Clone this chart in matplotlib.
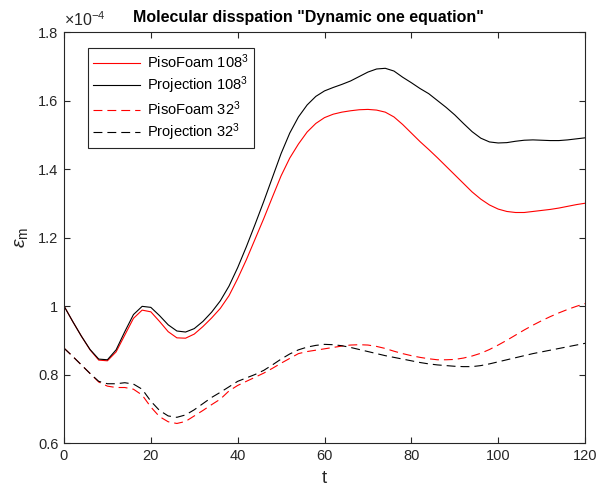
import matplotlib
matplotlib.use("Agg")
import matplotlib.pyplot as plt

plt.rcParams['font.family'] = ['Liberation Sans', 'DejaVu Sans']
plt.rcParams['mathtext.fontset'] = 'custom'
plt.rcParams['mathtext.rm'] = 'Liberation Sans'
plt.rcParams['mathtext.it'] = 'Liberation Sans:italic'

# time axis
t = list(range(0, 121, 2))

# values in units of 1e-4
piso_108 = [1.000, 0.955, 0.912, 0.872, 0.842, 0.840, 0.866, 0.915, 0.964, 0.988,
            0.983, 0.955, 0.925, 0.907, 0.906, 0.918, 0.940, 0.965, 0.993, 1.030,
            1.080, 1.135, 1.195, 1.255, 1.318, 1.380, 1.432, 1.473, 1.508, 1.533,
            1.550, 1.560, 1.566, 1.570, 1.573, 1.574, 1.572, 1.566, 1.552, 1.530,
            1.505, 1.480, 1.457, 1.433, 1.408, 1.383, 1.358, 1.333, 1.312, 1.295,
            1.283, 1.276, 1.273, 1.273, 1.276, 1.279, 1.282, 1.286, 1.291, 1.296,
            1.300]
proj_108 = [1.000, 0.955, 0.912, 0.873, 0.845, 0.843, 0.872, 0.925, 0.975, 0.999,
            0.996, 0.972, 0.945, 0.927, 0.924, 0.934, 0.955, 0.982, 1.015, 1.058,
            1.112, 1.173, 1.238, 1.305, 1.375, 1.445, 1.505, 1.552, 1.587, 1.612,
            1.628, 1.638, 1.647, 1.657, 1.670, 1.683, 1.692, 1.694, 1.686, 1.668,
            1.652, 1.635, 1.620, 1.600, 1.580, 1.558, 1.533, 1.509, 1.490, 1.479,
            1.476, 1.477, 1.481, 1.484, 1.485, 1.484, 1.483, 1.483, 1.485, 1.488,
            1.491]
piso_32 = [0.877, 0.853, 0.828, 0.803, 0.778, 0.766, 0.762, 0.762, 0.757, 0.740,
           0.705, 0.677, 0.662, 0.657, 0.663, 0.679, 0.695, 0.712, 0.728, 0.752,
           0.768, 0.780, 0.792, 0.804, 0.818, 0.833, 0.847, 0.861, 0.867, 0.871,
           0.875, 0.879, 0.883, 0.886, 0.887, 0.886, 0.882, 0.876, 0.868, 0.861,
           0.855, 0.850, 0.846, 0.843, 0.843, 0.844, 0.848, 0.854, 0.862, 0.873,
           0.886, 0.900, 0.915, 0.930, 0.944, 0.957, 0.969, 0.980, 0.990, 0.999,
           1.007]
proj_32 = [0.877, 0.853, 0.828, 0.803, 0.780, 0.773, 0.773, 0.776, 0.772, 0.757,
           0.722, 0.695, 0.679, 0.675, 0.682, 0.697, 0.715, 0.733, 0.748, 0.764,
           0.780, 0.790, 0.800, 0.812, 0.828, 0.845, 0.860, 0.872, 0.880, 0.885,
           0.888, 0.887, 0.884, 0.879, 0.873, 0.867, 0.861, 0.855, 0.850, 0.845,
           0.840, 0.835, 0.831, 0.828, 0.826, 0.824, 0.823, 0.823, 0.826, 0.831,
           0.837, 0.843, 0.849, 0.855, 0.861, 0.866, 0.871, 0.876, 0.881, 0.886,
           0.891]

labels = ['PisoFoam 108$^3$', 'Projection 108$^3$', 'PisoFoam 32$^3$', 'Projection 32$^3$']
xticks = [0, 20, 40, 60, 80, 100, 120]
yticks = [0.6, 0.8, 1.0, 1.2, 1.4, 1.6, 1.8]
ytick_labels = ['0.6', '0.8', '1', '1.2', '1.4', '1.6', '1.8']

fig = plt.figure(figsize=(6.0, 4.94), dpi=100)
ax = fig.add_axes([64/600, 51/494, 521/600, 411/494])

axcol = '#262626'
ax.plot(t, piso_108, color='#ff0000', lw=0.8, label=labels[0])
ax.plot(t, proj_108, color='#000000', lw=0.8, label=labels[1])
ax.plot(t, piso_32, color='#ff0000', lw=0.8, dashes=(8, 4.5), label=labels[2])
ax.plot(t, proj_32, color='#000000', lw=0.8, dashes=(8, 4.5), label=labels[3])

ax.set_xlim(0, 120)
ax.set_ylim(0.6, 1.8)
ax.set_xticks(xticks)
ax.set_yticks(yticks)
ax.set_yticklabels(ytick_labels)
ax.tick_params(direction='in', length=4, width=0.8, colors=axcol, labelsize=10.5,
               top=True, right=True, pad=4)
for s in ax.spines.values():
    s.set_color(axcol)
    s.set_linewidth(0.8)

ax.set_xlabel('t', fontsize=13.5, color=axcol, labelpad=5)
ax.set_ylabel(r'$\epsilon_{\rm m}$', fontsize=14, color=axcol, labelpad=6)
ax.text(0.47, 1.018, 'Molecular disspation "Dynamic one equation"',
        transform=ax.transAxes, fontsize=11.5, fontweight='bold', color='black',
        ha='center', va='bottom')
ax.text(0.0, 1.008, r'$\times$10$^{-4}$', transform=ax.transAxes, fontsize=11.5,
        color=axcol, ha='left', va='bottom')

leg = ax.legend(loc='upper left', bbox_to_anchor=(0.046, 0.962), fontsize=10.5,
                frameon=True, fancybox=False, framealpha=1, edgecolor='#262626',
                handlelength=3.2, handletextpad=0.5, labelspacing=0.22,
                borderpad=0.35, borderaxespad=0)
leg.get_frame().set_linewidth(0.8)

fig.savefig('out.png', dpi=100)
